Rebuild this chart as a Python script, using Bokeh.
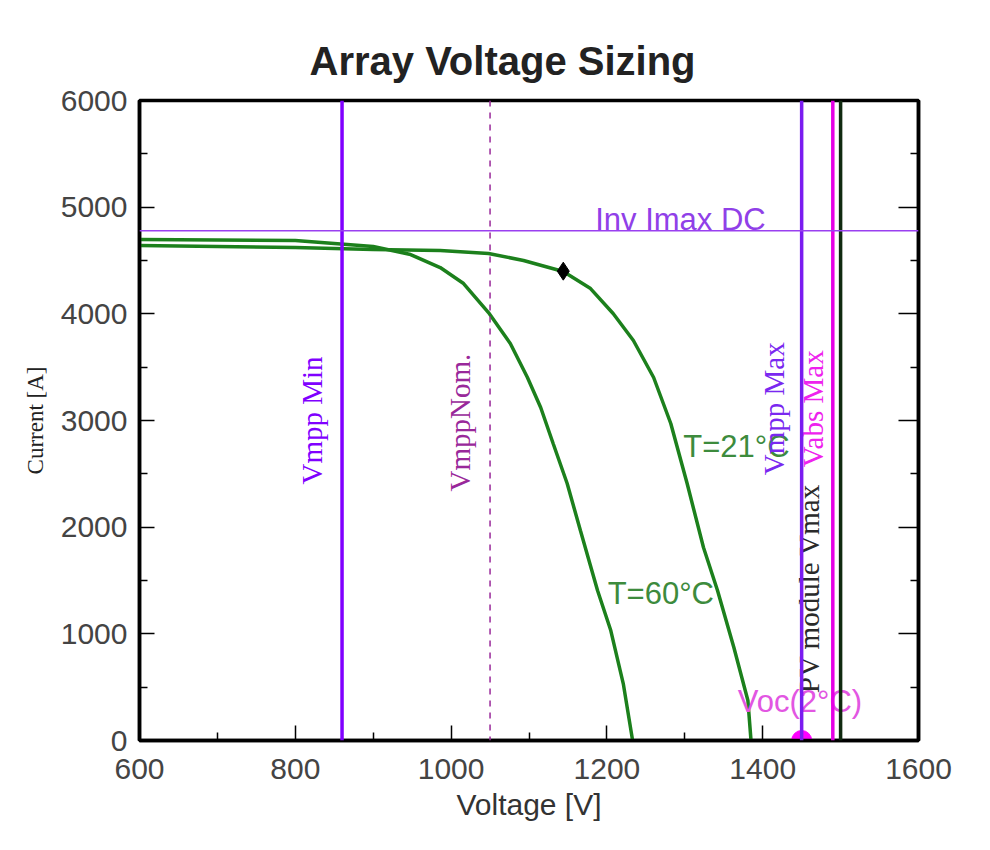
import math
from bokeh.plotting import figure
from bokeh.models import Span, LinearAxis, Range1d, FixedTicker, ColumnDataSource
from bokeh.core.properties import value
from bokeh.embed import file_html
from bokeh.resources import INLINE

# ---- data ----
v_21 = [600, 800, 900, 986, 1048, 1093, 1144, 1179, 1208, 1234, 1260, 1282, 1303, 1324, 1342, 1363, 1381, 1385]
i_21 = [4640, 4622, 4603, 4594, 4566, 4500, 4397, 4237, 4003, 3750, 3403, 2972, 2409, 1809, 1406, 872, 375, 0]
v_60 = [600, 800, 900, 948, 986, 1016, 1048, 1076, 1098, 1115, 1131, 1149, 1166, 1188, 1205, 1221, 1233]
i_60 = [4697, 4688, 4631, 4556, 4434, 4284, 4012, 3722, 3403, 3122, 2784, 2409, 1969, 1406, 1031, 534, 0]

mpp_v = [1144]
mpp_i = [4400]
voc_v = [1450]
voc_i = [0]

vmpp_min = 860
vmpp_nom = 1050
vmpp_max = 1450
vabs_max = 1490
pv_vmax = 1500
inv_imax_dc = 4780

x_ticks = [600, 800, 1000, 1200, 1400, 1600]
x_minor = [700, 900, 1100, 1300, 1500]
y_ticks = [0, 1000, 2000, 3000, 4000, 5000, 6000]
y_minor = [500, 1500, 2500, 3500, 4500, 5500]

vlabel_text = ["Vmpp Min", "VmppNom.", "Vmpp Max", "Vabs Max", "PV module Vmax"]
vlabel_v = [822, 1012, 1414, 1465, 1460]
vlabel_i = [3000, 2980, 3110, 3110, 1425]
vlabel_color = ["#8000ff", "#99289a", "#7a28f0", "#ee22ee", "#2a2a2a"]

hlabel_text = ["Inv Imax DC", "T=60°C", "Voc(2°C)", "T=21°C"]
hlabel_v = [1185, 1201, 1368, 1298]
hlabel_i = [4880, 1380, 365, 2760]
hlabel_color = ["#9040e8", "#3d8b3d", "#e256e2", "#3d8b3d"]

# ---- figure ----
p = figure(width=974, height=832, output_backend="svg", toolbar_location=None,
           x_range=Range1d(600, 1600), y_range=Range1d(0, 6000),
           min_border_left=139, min_border_right=56, min_border_top=100, min_border_bottom=92,
           background_fill_color="white", border_fill_color="white")
p.grid.visible = False
p.outline_line_color = "black"
p.outline_line_width = 3.5

p.title.text = "Array Voltage Sizing"
p.title.text_font = "Liberation Sans"
p.title.text_font_size = "40px"
p.title.text_font_style = "bold"
p.title.text_color = "#222222"
p.title.align = "left"
p.title.offset = 170
p.title.standoff = 36

def style_axis(ax):
    ax.axis_line_color = "black"
    ax.axis_line_width = 3.5
    ax.major_tick_in = 15
    ax.major_tick_out = 0
    ax.minor_tick_in = 8
    ax.minor_tick_out = 0
    ax.major_tick_line_color = "black"
    ax.minor_tick_line_color = "black"
    ax.major_tick_line_width = 1.5
    ax.minor_tick_line_width = 1.5
    ax.major_label_text_font = "Liberation Sans"
    ax.major_label_text_font_size = "30px"
    ax.major_label_text_color = "#444444"

xa = p.xaxis[0]
xa.ticker = FixedTicker(ticks=x_ticks, minor_ticks=x_minor)
style_axis(xa)
xa.major_label_standoff = 18
xa.axis_label = "Voltage [V]"
xa.axis_label_text_font = "Liberation Sans"
xa.axis_label_text_font_size = "30px"
xa.axis_label_text_font_style = "normal"
xa.axis_label_text_color = "#333333"
xa.axis_label_standoff = 6

ya = p.yaxis[0]
ya.ticker = FixedTicker(ticks=y_ticks, minor_ticks=y_minor)
style_axis(ya)
ya.major_label_standoff = 12
ya.axis_label = "Current [A]"
ya.axis_label_text_font = "Liberation Serif"
ya.axis_label_text_font_size = "23px"
ya.axis_label_text_font_style = "normal"
ya.axis_label_text_color = "#222222"
ya.axis_label_standoff = 10

ra = LinearAxis(ticker=FixedTicker(ticks=y_ticks, minor_ticks=y_minor))
style_axis(ra)
ra.major_tick_in = 20
ra.major_label_overrides = {t: "" for t in y_ticks}
p.add_layout(ra, "right")

# ---- reference lines ----
p.add_layout(Span(location=vmpp_min, dimension="height", line_color="#8000ff", line_width=3.5))
p.add_layout(Span(location=vmpp_nom, dimension="height", line_color="#99289a", line_width=1.5, line_dash="6 6"))
p.add_layout(Span(location=vmpp_max, dimension="height", line_color="#7a1cf0", line_width=3.5))
p.add_layout(Span(location=vabs_max, dimension="height", line_color="#e600e6", line_width=3.5))
p.add_layout(Span(location=pv_vmax, dimension="height", line_color="#102a10", line_width=3.5))
p.add_layout(Span(location=inv_imax_dc, dimension="width", line_color="#9a40f0", line_width=1.5))

# ---- curves ----
p.line(v_60, i_60, line_color="#1c801c", line_width=3.5)
p.line(v_21, i_21, line_color="#1c801c", line_width=3.5)
p.scatter(mpp_v, mpp_i, marker="diamond", size=18, color="black")
p.scatter(voc_v, voc_i, marker="circle", size=20, color="#ff00ff")

# ---- labels ----
hsrc = ColumnDataSource(dict(x=hlabel_v, y=hlabel_i, t=hlabel_text, c=hlabel_color))
p.text(x="x", y="y", text="t", text_color="c", source=hsrc,
       text_font=value("Liberation Sans"), text_font_size="31px",
       text_align="left", text_baseline="alphabetic")

vsrc = ColumnDataSource(dict(x=vlabel_v, y=vlabel_i, t=vlabel_text, c=vlabel_color))
p.text(x="x", y="y", text="t", text_color="c", source=vsrc, angle=math.pi / 2,
       text_font=value("Liberation Serif"), text_font_size="29px",
       text_align="center", text_baseline="middle")

open("out.html", "w").write(file_html(p, INLINE))
